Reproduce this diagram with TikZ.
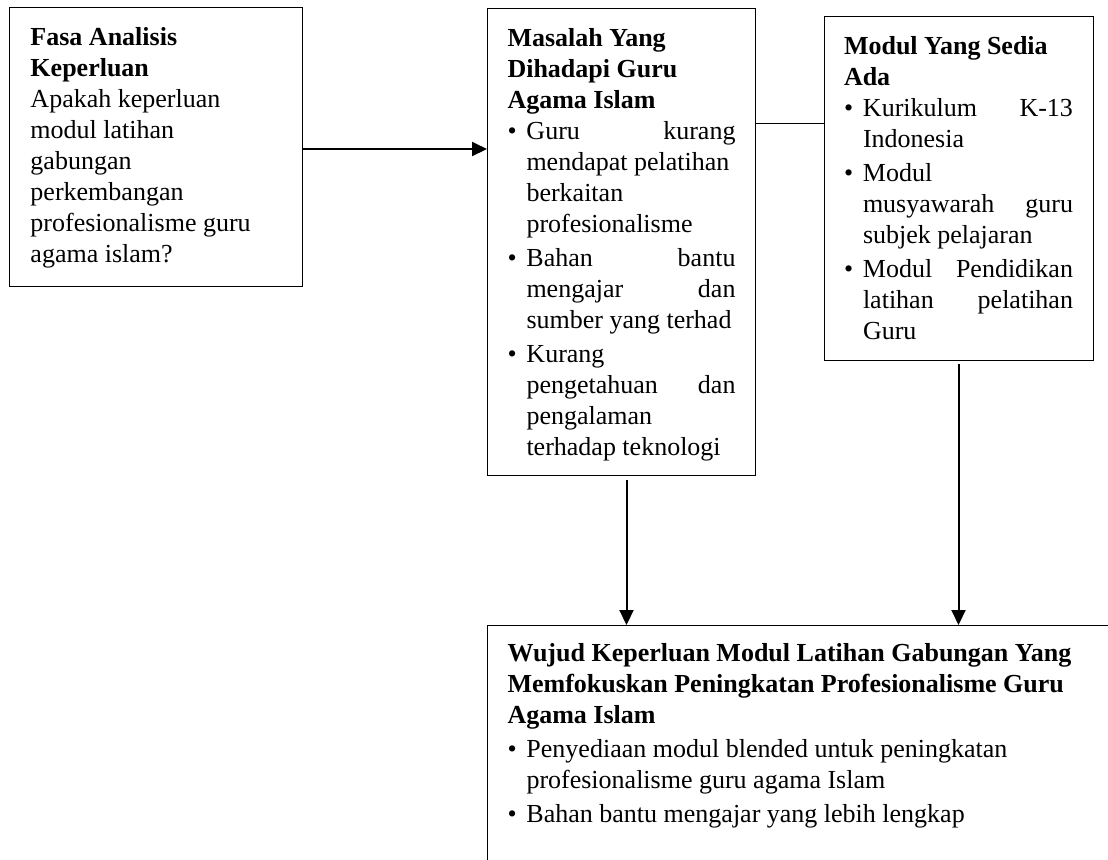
\documentclass[tikz,border=0pt]{standalone}
\usepackage{fontspec}
\setmainfont{Liberation Serif}
\usetikzlibrary{arrows.meta}
\newcommand\bul{\makebox[9.5pt][l]{\textbullet}}
\newcommand\ind{\hspace*{9.5pt}}

\begin{document}
\begin{tikzpicture}[x=.5pt,y=-.5pt,
 box/.style={draw,line width=.5pt,anchor=north west,inner xsep=10pt,inner ysep=10pt,font=\fontsize{13}{15.5}\selectfont},
 arr/.style={line width=1pt,-{Triangle[length=7.5pt,width=7pt]}}]
\useasboundingbox (0,0) rectangle (1108,859);
\clip (0,0) rectangle (1108,859);
\node[box,inner xsep=10.5pt] (fasa) at (9,7) {\parbox[c][119.5pt][t]{125.5pt}{\raggedright
 \textbf{Fasa Analisis}\\ \textbf{Keperluan}\\ Apakah keperluan\\ modul latihan\\ gabungan\\ perkembangan\\ profesionalisme guru\\ agama islam?}};
\node[box] (masalah) at (487,8) {\parbox[c][213.5pt][t]{114pt}{\raggedright
 \textbf{Masalah Yang}\\ \textbf{Dihadapi Guru}\\ \textbf{Agama Islam}\\
 \bul Guru\hfill kurang\\ \ind mendapat pelatihan\\ \ind berkaitan\\ \ind profesionalisme\\[1.5pt]
 \bul Bahan\hfill bantu\\ \ind mengajar\hfill dan\\ \ind sumber yang terhad\\[1.5pt]
 \bul Kurang\\ \ind pengetahuan\hfill dan\\ \ind pengalaman\\ \ind terhadap teknologi}};
\node[box] (modul) at (823.5,16) {\parbox[c][152pt][t]{114.5pt}{\raggedright
 \textbf{Modul Yang Sedia}\\ \textbf{Ada}\\
 \bul Kurikulum\hfill K-13\\ \ind Indonesia\\[1.5pt]
 \bul Modul\\ \ind musyawarah\hfill guru\\ \ind subjek pelajaran\\[1.5pt]
 \bul Modul\hfill Pendidikan\\ \ind latihan\hfill pelatihan\\ \ind Guru}};
\node[box,inner ysep=9pt] (wujud) at (487,625) {\parbox[c][112pt][t]{305pt}{\raggedright
 \textbf{Wujud Keperluan Modul Latihan Gabungan Yang}\\ \textbf{Memfokuskan Peningkatan Profesionalisme Guru}\\ \textbf{Agama Islam}\\[1.5pt]
 \bul Penyediaan modul blended untuk peningkatan\\ \ind profesionalisme guru agama Islam\\[1.5pt]
 \bul Bahan bantu mengajar yang lebih lengkap}};
\draw[arr] ([yshift=-71pt]fasa.north east) coordinate (fk) -- (fk -| masalah.west);
\draw[line width=.5pt] ([yshift=-57.5pt]masalah.north east) coordinate (mk) -- (mk -| modul.west);
\draw[arr] ([xshift=2.5pt,yshift=-2pt]masalah.south) coordinate (mb) -- (mb |- wujud.north);
\draw[arr] ([yshift=-1.5pt]modul.south) coordinate (mm) -- (mm |- wujud.north);
\end{tikzpicture}
\end{document}
